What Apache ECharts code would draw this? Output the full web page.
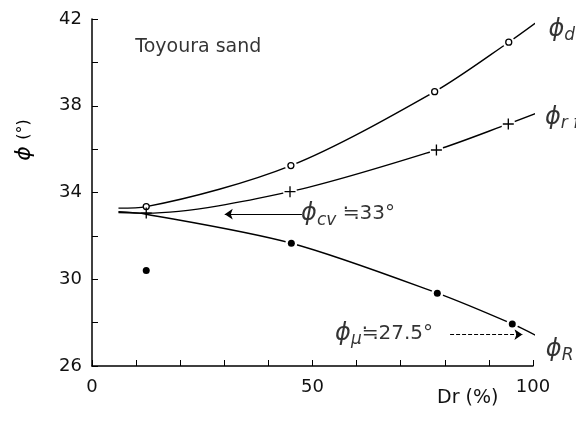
<!DOCTYPE html>
<html><head><meta charset="utf-8">
<script src="https://cdn.jsdelivr.net/npm/echarts@6/dist/echarts.min.js"></script>
<style>html,body{margin:0;padding:0;background:#fff}#c{width:576px;height:428px}</style>
</head><body><div id="c"></div>
<script>
// measured points
const phiD = [[12.3,33.35],[45.1,35.24],[77.7,38.65],[94.5,40.93]];
const phiRf = [[12.3,33.05],[44.9,34.04],[78.1,35.96],[94.4,37.16]];
const phiR = [[12.3,30.4],[45.2,31.66],[78.3,29.36],[95.3,27.94]];
// curve paths
const curveD = [[6,33.28],[12.3,33.35],[45.1,35.24],[77.7,38.65],[94.5,40.93],[101.8,42.0]];
const curveRf = [[6,33.08],[12.3,33.05],[44.9,34.04],[78.1,35.96],[94.4,37.16],[101,37.67]];
const curveR = [[6,33.12],[12.3,33.0],[45.2,31.66],[78.3,29.36],[95.3,27.94],[101.7,27.3]];
// arrows
const arrowCv = [[47.6,33.0],[30.1,33.0]];
const arrowMu = [[81.2,27.45],[97.6,27.45]];
const yTickLabels = [26,30,34,38,42];
const xTickLabels = [0,50,100];

const chart = echarts.init(document.getElementById('c'), null, {renderer:'canvas'});
const F = 'DejaVu Sans';
const cross = 'path://M0,4.4H10V5.6H0Z M4.4,0H5.6V10H4.4Z';
const phiRich = {
  p:{fontFamily:F, fontSize:24, fontStyle:'italic', color:'#000'},
  s:{fontFamily:F, fontSize:17, fontStyle:'italic', color:'#000', verticalAlign:'bottom', padding:[12,0,0,0]},
  t:{fontFamily:F, fontSize:20, color:'#000'},
  n:{fontFamily:F, fontSize:19, color:'#000'}
};
const lbl = (coord, formatter) => ({
  type:'scatter', symbol:'circle', symbolSize:1, silent:true, zlevel:1, z:6, clip:false,
  itemStyle:{color:'transparent'},
  data:[coord],
  label:{show:true, position:'right', distance:0, formatter, rich:phiRich, color:'#000', fontFamily:F}
});
const mask = (data, size) => ({type:'scatter', data, symbol:'circle', symbolSize:size, zlevel:1, z:3, silent:true,
  itemStyle:{color:'#fff', opacity:1}});
chart.setOption({
  animation:false,
  backgroundColor:'#fff',
  grid:{left:92, right:43, top:19, bottom:62},
  xAxis:{type:'value', min:0, max:100, interval:10,
    axisLine:{lineStyle:{color:'#000', width:1.5}},
    axisTick:{inside:true, length:6, lineStyle:{color:'#000'}},
    splitLine:{show:false},
    axisLabel:{fontFamily:F, fontSize:18, color:'#111', margin:12,
      formatter:v=> xTickLabels.includes(v)? String(v):''}
  },
  yAxis:{type:'value', min:26, max:42, interval:2,
    axisLine:{show:true, lineStyle:{color:'#000', width:1.5}},
    axisTick:{show:true, inside:true, length:6, lineStyle:{color:'#000'}},
    splitLine:{show:false},
    axisLabel:{fontFamily:F, fontSize:18, color:'#111', margin:10,
      formatter:v=> yTickLabels.includes(v)? String(v):''}
  },
  graphic:[
    {type:'text', left:437, top:389, style:{text:'Dr (%)', font:'19px "DejaVu Sans"', fill:'#111'}},
    {type:'text', x:24, y:140, rotation:Math.PI/2,
      style:{text:'{p|ϕ}  {q|(°)}', align:'center', verticalAlign:'middle',
        rich:{p:{fontFamily:F, fontSize:22, fontStyle:'italic', fill:'#000'},
              q:{fontFamily:F, fontSize:16, fill:'#000'}}}}
  ],
  series:[
    {type:'line', data:curveD, smooth:0.3, clip:false, symbol:'none', z:2, lineStyle:{color:'#000', width:1.4}},
    {type:'line', data:curveRf, smooth:0.3, clip:false, symbol:'none', z:2, lineStyle:{color:'#000', width:1.4}},
    {type:'line', data:curveR, smooth:0.3, clip:false, symbol:'none', z:2, lineStyle:{color:'#000', width:1.4}},
    mask(phiD.slice(1), 12), mask(phiRf.slice(1), 14), mask(phiR.slice(1), 12),
    {type:'scatter', data:phiD, symbol:'circle', symbolSize:6, zlevel:1, z:4,
      itemStyle:{color:'#fff', borderColor:'#000', borderWidth:1.3, opacity:1}},
    {type:'scatter', data:phiRf, symbol:cross, symbolSize:11, zlevel:1, z:4, itemStyle:{color:'#000', opacity:1}},
    {type:'scatter', data:phiR, symbol:'circle', symbolSize:7, zlevel:1, z:4, itemStyle:{color:'#000', opacity:1}},
    {type:'lines', coordinateSystem:'cartesian2d', polyline:false, zlevel:1, z:3,
      symbol:['none','arrow'], symbolSize:8,
      lineStyle:{color:'#000', width:1, opacity:1},
      data:[{coords:arrowCv},{coords:arrowMu, lineStyle:{type:[4,2], width:1}}]},
    lbl([9.7,40.7], '{n|Toyoura sand}'),
    lbl([103.4,41.5], '{p|ϕ}{s|d}'),
    lbl([102.6,37.45], '{p|ϕ}{s|r f}'),
    lbl([102.8,26.75], '{p|ϕ}{s|R}'),
    lbl([47.3,33.0], '{p|ϕ}{s|cv}{t| ≒33°}'),
    lbl([55.0,27.5], '{p|ϕ}{s|μ}{t|≒27.5°}')
  ]
});
</script></body></html>
